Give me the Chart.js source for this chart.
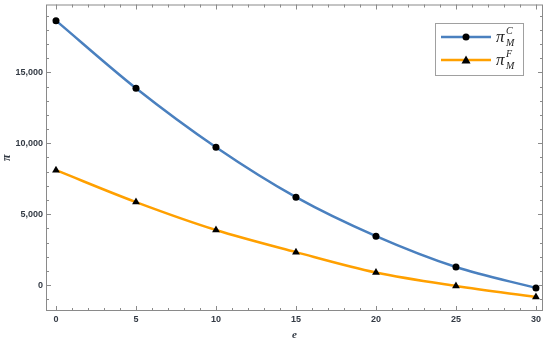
<!DOCTYPE html>
<html>
<head>
<meta charset="utf-8">
<script src="https://cdn.jsdelivr.net/npm/chart.js@4"></script>
<style>
  html, body { margin: 0; padding: 0; background: #fff; }
  #wrap { width: 550px; height: 342px; position: relative; }
</style>
</head>
<body>
<div id="wrap"><canvas id="myChart"></canvas></div>
<script>
// valores
const eValues = [0, 5, 10, 15, 20, 25, 30];
const piC = [18650, 13880, 9720, 6200, 3450, 1270, -210];
const piF = [8100, 5850, 3880, 2320, 880, -70, -840];
const xTicks = [0, 5, 10, 15, 20, 25, 30];
const yTicks = [0, 5000, 10000, 15000];

const azul = '#4a80bf';
const naranjo = '#ffa000';
const colorMarco = '#8a8a8a';
const colorTexto = '#333a44';

function puntos(valores) {
    return eValues.map((e, i) => ({ x: e, y: valores[i] }));
}

// dibujo marco y ticks hacia adentro, estilo Mathematica
const marcoPlugin = {
    id: 'marco',
    afterDatasetsDraw(chart) {
        const ctx = chart.ctx;
        const a = chart.chartArea;
        const sx = chart.scales.x;
        const sy = chart.scales.y;
        ctx.save();
        ctx.strokeStyle = colorMarco;
        ctx.lineWidth = 1;
        ctx.strokeRect(a.left + 0.5, a.top + 0.5, a.right - a.left - 1, a.bottom - a.top - 1);
        ctx.beginPath();
        for (let v = 0; v <= 30; v++) {
            const px = Math.round(sx.getPixelForValue(v)) + 0.5;
            const largo = v % 5 === 0 ? 5 : 3;
            ctx.moveTo(px, a.bottom); ctx.lineTo(px, a.bottom - largo);
            ctx.moveTo(px, a.top); ctx.lineTo(px, a.top + largo);
        }
        for (let v = -1000; v <= 19000; v += 1000) {
            const py = Math.round(sy.getPixelForValue(v)) + 0.5;
            const largo = v % 5000 === 0 ? 5 : 3;
            ctx.moveTo(a.left, py); ctx.lineTo(a.left + largo, py);
            ctx.moveTo(a.right, py); ctx.lineTo(a.right - largo, py);
        }
        ctx.stroke();
        ctx.restore();
    },
    afterDraw(chart) {
        // leyenda con subindices
        const ctx = chart.ctx;
        ctx.save();
        ctx.fillStyle = '#fff';
        ctx.fillRect(435, 23, 88, 52);
        ctx.strokeStyle = '#a0a0a0';
        ctx.lineWidth = 1;
        ctx.strokeRect(435.5, 23.5, 88, 52);
        const filas = [
            { y: 37, color: azul, sup: 'C', forma: 'circulo' },
            { y: 60, color: naranjo, sup: 'F', forma: 'triangulo' }
        ];
        filas.forEach(f => {
            ctx.strokeStyle = f.color;
            ctx.lineWidth = 2.5;
            ctx.beginPath();
            ctx.moveTo(441, f.y); ctx.lineTo(491, f.y);
            ctx.stroke();
            ctx.fillStyle = '#000';
            ctx.beginPath();
            if (f.forma === 'circulo') {
                ctx.arc(466, f.y, 3.5, 0, Math.PI * 2);
            } else {
                ctx.moveTo(466, f.y - 4.5); ctx.lineTo(470.5, f.y + 3.5); ctx.lineTo(461.5, f.y + 3.5); ctx.closePath();
            }
            ctx.fill();
            ctx.fillStyle = '#222';
            ctx.textBaseline = 'alphabetic';
            ctx.font = 'italic 17px "Liberation Serif"';
            ctx.fillText('π', 496, f.y + 5);
            ctx.font = 'italic 10px "Liberation Serif"';
            ctx.fillText(f.sup, 506, f.y - 3);
            ctx.fillText('M', 506, f.y + 9);
        });
        ctx.restore();
    }
};

const ctx = document.getElementById('myChart');
new Chart(ctx, {
    type: 'line',
    data: {
        datasets: [
            {
                label: 'πC M',
                data: puntos(piC),
                borderColor: azul,
                borderWidth: 2.5,
                pointStyle: 'circle',
                pointRadius: 3.5,
                pointBackgroundColor: '#000',
                pointBorderColor: '#000',
                pointBorderWidth: 0,
                cubicInterpolationMode: 'monotone'
            },
            {
                label: 'πF M',
                data: puntos(piF),
                borderColor: naranjo,
                borderWidth: 2.5,
                pointStyle: 'triangle',
                pointRadius: 4.5,
                pointBackgroundColor: '#000',
                pointBorderColor: '#000',
                pointBorderWidth: 0,
                cubicInterpolationMode: 'monotone'
            }
        ]
    },
    options: {
        responsive: true,
        maintainAspectRatio: false,
        animation: false,
        layout: { padding: { top: 4, right: 7, left: 0, bottom: 0 } },
        plugins: {
            legend: { display: false },
            tooltip: { enabled: false }
        },
        scales: {
            x: {
                type: 'linear',
                min: -0.625,
                max: 30.44,
                grid: { display: false, drawTicks: false },
                border: { display: false },
                afterBuildTicks: s => { s.ticks = xTicks.map(v => ({ value: v })); },
                afterFit: s => { s.height = 31; s.paddingLeft = 0; s.paddingRight = 0; },
                ticks: {
                    padding: 3,
                    color: colorTexto,
                    font: { family: 'Liberation Sans', size: 9, weight: 'bold' },
                    callback: v => v
                },
                title: {
                    display: true,
                    text: 'e',
                    color: colorTexto,
                    padding: { top: 2, bottom: 0 },
                    font: { family: 'Liberation Serif', size: 11, style: 'italic', weight: 'bold' }
                }
            },
            y: {
                min: -1831,
                max: 19789,
                grid: { display: false, drawTicks: false },
                border: { display: false },
                afterBuildTicks: s => { s.ticks = yTicks.map(v => ({ value: v })); },
                afterFit: s => { s.width = 46; s.paddingTop = 0; s.paddingBottom = 0; },
                ticks: {
                    padding: 3,
                    color: colorTexto,
                    font: { family: 'Liberation Sans', size: 9, weight: 'bold' },
                    callback: v => v.toLocaleString('en-US')
                },
                title: {
                    display: true,
                    text: 'π',
                    color: colorTexto,
                    padding: { top: 0, bottom: 0 },
                    font: { family: 'Liberation Serif', size: 12, style: 'italic', weight: 'bold' }
                }
            }
        }
    },
    plugins: [marcoPlugin]
});
</script>
</body>
</html>
